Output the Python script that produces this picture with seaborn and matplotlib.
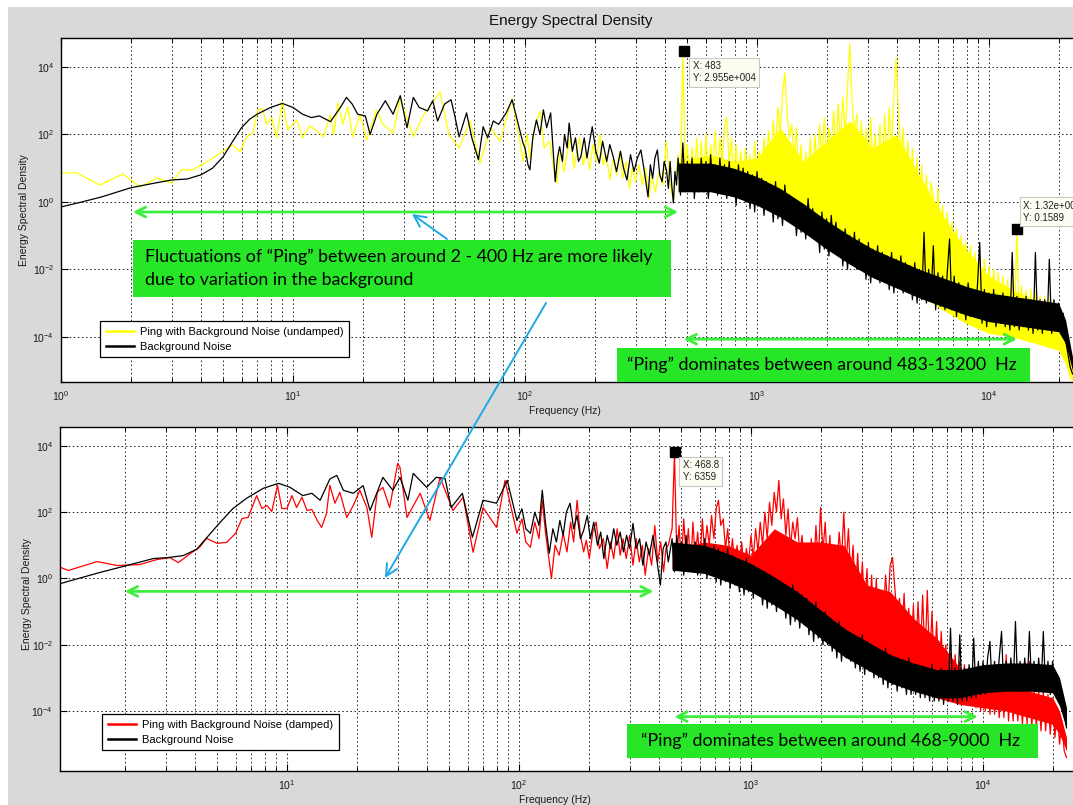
import numpy as np
import matplotlib
matplotlib.use("Agg")
import matplotlib.pyplot as plt
import seaborn as sns
from matplotlib.patches import Rectangle, FancyArrowPatch
from matplotlib.lines import Line2D
from matplotlib.ticker import LogLocator, NullLocator, FixedLocator

# ---------------- data (log10 of Energy Spectral Density) ----------------
# Top panel: background (black), low/mid frequency part
bt_lm_f = [1.0, 1.2, 1.5, 2.0, 2.5, 3.0, 3.5, 4.0, 4.5, 5.0,
           5.5, 6.0, 6.5, 7.0, 8.0, 9.0, 10, 11, 12, 13,
           14.5, 16, 17, 18, 19, 20.5, 21.5, 23, 25, 27,
           29, 31, 33, 35, 38, 40, 42, 45, 48, 50,
           52, 56, 59, 63, 66, 69, 73, 77, 83, 88,
           92, 98, 100, 103, 105, 108, 112, 116, 120, 124,
           129, 132, 135, 138, 141, 145, 148, 152, 155, 160,
           165, 170, 174, 180, 185, 190, 195, 202, 209, 216,
           225, 232, 240, 248, 258, 266, 275, 285, 295, 305,
           316, 327, 339, 347, 355, 363, 372, 381, 390, 398,
           407, 415, 422, 429, 436, 443, 450]
bt_lm_v = [-0.15, -0.02, 0.15, 0.42, 0.55, 0.65, 0.68, 0.80, 1.00, 1.34,
           1.80, 2.20, 2.45, 2.60, 2.80, 2.92, 2.80, 2.60, 2.50, 2.55,
           2.38, 2.80, 3.10, 2.90, 2.60, 2.55, 2.00, 2.60, 3.00, 2.60,
           3.15, 2.20, 3.10, 2.80, 2.70, 3.00, 2.40, 2.90, 3.03, 2.50,
           1.93, 2.64, 1.90, 1.25, 2.23, 1.90, 2.40, 2.30, 2.64, 3.03,
           2.50, 1.75, 1.60, 1.10, 0.95, 1.90, 2.43, 2.00, 2.73, 2.20,
           2.64, 1.60, 0.60, 1.30, 1.64, 1.20, 2.00, 1.60, 2.34, 1.50,
           1.90, 1.20, 1.34, 1.90, 1.30, 1.80, 2.23, 1.50, 1.15, 1.80,
           1.20, 1.70, 1.34, 0.90, 1.50, 1.00, 0.65, 1.40, 0.90, 1.30,
           1.54, 0.90, 0.15, 1.10, 0.70, 1.30, 1.54, 0.80, 0.60, 1.20,
           0.95, 0.40, 1.20, 0.50, -0.03, 0.90, 0.50]

# Top panel: ping (yellow), low/mid frequency part
yt_lm_f = [1.0, 1.17, 1.47, 1.85, 2.19, 2.59, 3.0, 3.3, 3.7, 4.26,
           4.85, 5.5, 5.9, 6.3, 6.7, 7.05, 7.4, 7.7, 8.1, 8.5,
           9.0, 9.5, 10.4, 11.0, 11.8, 12.7, 13.5, 14.5, 15.0, 15.6,
           16.4, 17.2, 18.1, 19.4, 20.8, 22.9, 24.4, 27, 29, 33,
           36, 43, 47, 52, 58, 64, 71, 78, 88, 95,
           98, 102, 105, 110, 116, 121, 128, 132, 137, 142,
           147, 151, 157, 163, 168, 172, 178, 184, 190, 196,
           203, 210, 217, 224, 232, 240, 248, 256, 264, 273,
           282, 290, 300, 310, 320, 331, 342, 352, 365, 378,
           392, 407, 421, 436, 448]
yt_lm_v = [0.86, 0.86, 0.50, 0.83, 0.44, 0.71, 0.56, 0.95, 0.95, 1.19,
           1.45, 1.69, 1.48, 1.93, 2.04, 2.73, 2.76, 2.29, 2.50, 1.90,
           2.97, 2.14, 2.43, 1.90, 2.26, 2.10, 1.93, 2.58, 2.00, 2.94,
           2.30, 2.82, 1.93, 2.60, 1.84, 2.73, 2.30, 2.04, 3.06, 1.93,
           2.50, 3.26, 2.00, 1.60, 2.40, 1.15, 2.20, 1.80, 3.06, 1.80,
           1.20, 2.00, 1.30, 2.20, 2.70, 1.60, 1.80, 1.10, 0.56, 1.50,
           0.90, 1.34, 1.90, 1.00, 1.60, 1.90, 1.10, 1.50, 0.95, 1.70,
           1.20, 2.00, 1.10, 1.40, 0.65, 1.30, 0.80, 1.50, 0.70, 1.20,
           0.40, 1.00, 0.60, 1.10, 0.50, 1.00, 0.10, 0.80, 0.30, 0.90,
           0.50, 1.80, 0.60, 0.00, 0.90]

# Bottom panel: background (black), low/mid frequency part
bb_lm_f = [1.06, 1.56, 2.04, 2.65, 3.07, 3.57, 4.08, 4.52, 5.1, 5.85,
           6.7, 7.9, 9.2, 10.3, 11.7, 12.8, 13.9, 15.3, 16.4, 17.5,
           19.3, 21.3, 22.8, 25.9, 28.6, 30.7, 33.2, 35, 40, 44,
           48, 51, 57, 63, 70, 80, 89, 98, 103, 107,
           112, 117, 122, 126, 130, 135, 140, 145, 150, 155,
           160, 166, 172, 178, 184, 190, 197, 203, 210, 218,
           225, 232, 240, 248, 256, 264, 273, 282, 291, 300,
           310, 320, 331, 342, 353, 365, 378, 392, 407, 418,
           430, 440]
bb_lm_v = [-0.15, 0.18, 0.39, 0.60, 0.63, 0.69, 0.88, 1.24, 1.66, 2.11,
           2.42, 2.72, 2.87, 2.75, 2.50, 2.57, 2.36, 3.00, 3.11, 2.66,
           2.57, 2.80, 2.05, 3.05, 2.66, 3.05, 2.36, 3.17, 2.75, 3.05,
           3.02, 2.14, 2.57, 1.24, 2.36, 2.27, 2.96, 1.75, 2.10, 1.50,
           1.36, 2.00, 1.60, 2.66, 1.70, 0.76, 1.50, 1.10, 1.75, 1.30,
           2.00, 2.27, 1.50, 1.90, 1.20, 1.45, 1.90, 1.20, 1.70, 1.00,
           1.40, 0.60, 1.30, 0.90, 1.50, 1.00, 1.40, 0.80, 1.30, 0.90,
           1.66, 0.90, 1.20, 0.40, 1.10, 0.70, 1.30, 0.60, -0.20, 0.90,
           1.10, 0.50]

# Bottom panel: ping (red), low/mid frequency part
rb_lm_f = [1.06, 1.14, 1.52, 1.85, 2.32, 2.75, 3.13, 3.4, 3.9, 4.2,
           4.5, 5.0, 5.5, 6.0, 6.4, 6.8, 7.4, 7.8, 8.2, 8.6,
           9.1, 9.5, 10.0, 10.5, 11.0, 11.6, 12.2, 12.8, 13.5, 14.1,
           14.8, 15.3, 16.1, 16.9, 18.1, 19.3, 20.6, 22.1, 23.2, 24.5,
           25.9, 27.7, 30, 30.7, 32.9, 37.5, 41.3, 45.7, 51.9, 57.5,
           63.4, 70, 80, 87, 98, 103, 107, 112, 117, 122,
           126, 130, 134, 138, 143, 149, 155, 161, 167, 172,
           178, 184, 190, 195, 201, 208, 215, 222, 231, 240,
           248, 256, 265, 273, 281, 290, 300, 310, 320, 330,
           340, 350, 362, 373, 385, 396, 408, 420, 430, 440]
rb_lm_v = [0.33, 0.24, 0.51, 0.39, 0.42, 0.57, 0.63, 0.48, 0.79, 0.94,
           1.21, 1.06, 1.09, 1.36, 1.81, 1.84, 2.50, 2.11, 2.20, 2.02,
           2.81, 2.11, 2.11, 2.50, 2.14, 2.45, 2.05, 2.08, 1.75, 1.54,
           1.96, 2.81, 2.27, 2.60, 1.84, 2.20, 2.66, 2.14, 1.24, 2.60,
           2.75, 2.14, 3.47, 3.35, 1.84, 2.57, 1.75, 3.05, 2.05, 2.45,
           0.79, 2.14, 1.54, 2.96, 1.36, 1.80, 1.10, 0.94, 1.70, 1.20,
           2.36, 1.40, 0.70, 0.00, 1.00, 0.70, 1.36, 0.80, 1.70, 1.10,
           2.36, 1.30, 0.80, 1.15, 0.60, 1.40, 1.70, 0.90, 1.20, 0.30,
           1.10, 0.60, 1.50, 0.70, 1.20, 0.60, 1.30, 0.40, 1.20, 0.50,
           1.00, 0.10, 0.90, 0.40, 1.60, 0.50, 1.10, 0.20, 0.90, 1.00]

# High-frequency part (shared frequency grid, Hz)
hf_f = [457, 468, 479, 490, 501, 513, 525, 537, 550, 562,
        575, 589, 603, 617, 631, 646, 661, 676, 692, 708,
        724, 741, 759, 776, 794, 813, 832, 851, 871, 891,
        912, 933, 955, 977, 1000, 1023, 1047, 1072, 1096, 1122,
        1148, 1175, 1202, 1230, 1259, 1288, 1318, 1349, 1380, 1413,
        1445, 1479, 1514, 1549, 1585, 1622, 1660, 1698, 1738, 1778,
        1820, 1862, 1905, 1950, 1995, 2042, 2089, 2138, 2188, 2239,
        2291, 2344, 2399, 2455, 2512, 2570, 2630, 2692, 2754, 2818,
        2884, 2951, 3020, 3090, 3162, 3236, 3311, 3388, 3467, 3548,
        3631, 3715, 3802, 3890, 3981, 4074, 4169, 4266, 4365, 4467,
        4571, 4677, 4786, 4898, 5012, 5129, 5248, 5370, 5495, 5623,
        5754, 5888, 6026, 6166, 6310, 6457, 6607, 6761, 6918, 7079,
        7244, 7413, 7586, 7762, 7943, 8128, 8318, 8511, 8710, 8913,
        9120, 9333, 9550, 9772, 10000, 10233, 10471, 10715, 10965, 11220,
        11482, 11749, 12023, 12303, 12589, 12882, 13183, 13490, 13804, 14125,
        14454, 14791, 15136, 15488, 15849, 16218, 16596, 16982, 17378, 17783,
        18197, 18621, 19055, 19498, 19953, 20417, 20893, 21380, 21878, 22387,
        22909]

bt_hf_v = [1.3, 0.2, 1.75, 0.3, 1.2, 0.4, 1.3, 0.1, 1.1, 0.3,
           1.3, 0.3, 1.2, 0.1, 1.4, 0.4, 1.1, 0.2, 1.3, 0.35,
           1.1, 0.1, 1.2, 0.2, 0.9, -0.1, 1.1, 0.2, 1.0, 0.0,
           0.9, -0.2, 0.8, -0.3, 0.9, 0.0, 0.7, -0.4, 0.6, -0.2,
           0.5, -0.6, 0.6, -0.5, 0.3, -0.7, 0.5, -0.4, 0.2, -0.6,
           0.1, -1.0, 0.0, -0.9, -0.1, -1.1, 0.1, -0.8, -0.2, -1.0,
           -0.4, -1.5, -0.3, -1.4, -0.5, -1.6, -0.4, -1.3, -0.6, -1.5,
           -0.9, -1.9, -0.8, -2.0, -1.0, -1.8, -0.9, -2.0, -1.1, -1.9,
           -1.3, -2.3, -1.2, -2.4, -1.4, -2.2, -1.3, -2.4, -1.5, -2.3,
           -1.6, -2.6, -1.5, -2.7, -1.7, -2.5, -1.6, -2.7, -1.8, -2.6,
           -1.9, -2.9, -1.8, -3.0, -2.0, -2.9, -0.9, -3.0, -2.0, -2.9,
           -1.3, -3.2, -2.1, -3.1, -2.2, -3.2, -2.1, -1.1, -3.2, -2.2,
           -3.4, -2.4, -3.3, -2.5, -3.5, -2.4, -3.4, -2.6, -3.4, -2.5,
           -1.2, -3.6, -2.6, -3.7, -2.7, -3.5, -2.6, -3.7, -2.8, -3.6,
           -2.7, -3.7, -2.8, -3.8, -1.5, -3.7, -2.8, -3.8, -2.9, -3.7,
           -2.8, -3.8, -2.9, -3.9, -1.5, -3.8, -2.9, -3.9, -2.9, -3.8,
           -1.7, -3.9, -2.9, -3.8, -3.0, -3.9, -3.3, -4.1, -4.5, -4.9,
           -5.1]
yt_hf_v = [1.4, 0.6, 4.47, 0.9, 1.7, 0.5, 1.6, 0.7, 1.9, 0.6,
           1.8, 0.8, 2.0, 0.6, 1.7, 1.0, 2.1, 0.7, 1.9, 1.2,
           2.2, 2.5, 1.1, 1.9, 0.6, 1.7, 0.8, 1.5, 0.5, 1.6,
           0.7, 1.4, 0.4, 1.8, 0.8, 1.5, 0.6, 1.9, 1.0, 2.1,
           1.2, 2.4, 1.5, 2.8, 2.0, 3.2, 3.83, 2.6, 1.9, 2.3,
           1.2, 2.2, 0.8, 1.7, 0.3, 1.5, 0.5, 1.9, 0.6, 2.0,
           0.9, 2.3, 1.2, 2.5, 1.3, 2.2, 1.6, 2.7, 1.5, 2.9,
           1.7, 3.1, 2.0, 3.4, 4.7, 3.0, 2.0, 2.6, 1.3, 2.4,
           1.0, 2.2, 0.7, 2.5, 1.1, 2.0, 0.6, 2.3, 0.9, 2.6,
           1.2, 2.8, 1.5, 3.2, 4.27, 2.6, 1.3, 2.2, 0.6, 1.8,
           0.2, 1.6, -0.1, 1.3, -0.4, 1.1, -0.6, 0.8, -0.7, 0.6,
           0.15, -1.0, 0.4, -1.2, -0.1, -1.3, -0.3, -1.5, -0.6, -1.7,
           -0.8, -1.9, -1.0, -2.1, -1.2, -2.3, -1.3, -2.5, -1.5, -2.6,
           -1.6, -2.8, -1.7, -2.9, -1.9, -3.0, -2.0, -3.1, -2.1, -3.3,
           -2.2, -3.4, -2.3, -3.5, -2.2, -3.5, -0.8, -3.6, -2.5, -3.7,
           -2.6, -3.8, -2.6, -3.9, -2.7, -4.0, -2.8, -4.0, -2.8, -4.1,
           -2.9, -4.1, -3.0, -4.2, -3.1, -4.4, -3.4, -4.6, -4.9, -5.2,
           -5.3]
rb_hf_v = [1.5, 3.8, 0.6, 1.6, 0.4, 1.8, 0.7, 1.5, 0.3, 1.7,
           0.6, 1.4, 0.5, 1.8, 0.8, 1.6, 1.0, 1.9, 1.2, 2.1,
           2.36, 1.6, 1.8, 0.9, 1.5, 0.5, 1.2, 0.4, 1.0, 0.3,
           1.1, 0.2, 0.9, 0.5, 1.3, 0.6, 1.5, 0.8, 1.7, 1.0,
           2.0, 1.2, 2.3, 1.6, 2.6, 2.0, 2.96, 1.8, 2.4, 1.3,
           2.1, 0.9, 1.7, 1.2, 1.84, 0.7, 1.3, 0.2, 1.0, -0.1,
           1.2, 0.2, 1.6, 0.5, 2.14, 0.8, 1.7, 0.3, 1.3, -0.2,
           1.0, 0.2, 1.4, 0.5, 2.0, 0.4, 1.5, 0.0, 1.0, -0.5,
           0.76, -0.8, 0.5, -1.0, 0.3, -1.2, 0.1, -1.5, 0.0, -1.6,
           -0.4, -1.3, 0.1, -0.9, 0.4, 0.63, -0.3, -1.2, -0.6, -1.8,
           -0.45, -2.0, -0.9, -2.2, -0.8, -2.4, -0.7, -2.3, -0.5, -2.5,
           -0.36, -2.6, -1.0, -2.8, -1.3, -3.0, -1.6, -3.1, -2.0, -3.3,
           -2.27, -3.4, -2.3, -3.5, -2.5, -3.6, -2.6, -3.7, -2.7, -3.8,
           -2.8, -3.9, -2.9, -4.0, -3.0, -4.0, -3.0, -4.1, -3.1, -4.1,
           -3.1, -4.2, -3.2, -4.2, -2.3, -4.3, -3.2, -4.3, -3.3, -4.3,
           -3.3, -4.4, -3.3, -4.4, -2.5, -4.5, -3.4, -4.5, -3.4, -4.6,
           -3.4, -4.6, -3.5, -4.7, -3.6, -4.8, -3.9, -5.0, -4.3, -5.2,
           -5.4]
bb_hf_v = [1.2, 0.2, 1.3, 0.3, 1.1, 0.1, 1.3, 0.4, 1.0, 0.2,
           1.1, 0.1, 1.0, 0.2, 1.2, 0.0, 0.9, 0.2, 1.0, -0.1,
           0.9, -0.2, 0.8, -0.1, 0.9, -0.3, 0.7, -0.2, 0.6, -0.4,
           0.5, -0.5, 0.6, -0.4, 0.4, -0.6, 0.3, -0.5, 0.2, -0.8,
           0.2, -0.9, 0.1, -0.8, 0.0, -1.0, -0.1, -0.9, -0.2, -1.2,
           -0.3, -1.4, -0.2, -1.3, -0.4, -1.5, -0.5, -1.4, -0.6, -1.7,
           -0.8, -1.9, -0.7, -1.8, -1.0, -2.0, -1.0, -2.0, -1.2, -2.2,
           -1.4, -2.4, -1.3, -2.5, -1.5, -2.4, -1.6, -2.5, -1.7, -2.7,
           -1.8, -2.8, -1.7, -2.9, -1.9, -2.8, -2.0, -3.0, -2.1, -3.0,
           -2.2, -3.2, -2.1, -3.3, -2.3, -3.2, -2.4, -3.4, -2.5, -3.3,
           -2.5, -3.5, -2.4, -3.5, -2.6, -3.5, -2.6, -3.6, -2.7, -3.6,
           -2.7, -3.7, -2.6, -3.7, -2.8, -3.7, -2.7, -3.8, -2.8, -3.7,
           -1.5, -3.7, -2.7, -3.8, -1.7, -3.7, -2.7, -3.7, -2.6, -3.6,
           -1.8, -3.6, -2.5, -3.5, -2.5, -3.5, -2.4, -1.9, -3.4, -2.5,
           -3.4, -2.4, -1.6, -3.4, -2.5, -3.4, -2.4, -3.3, -1.3, -3.4,
           -2.5, -3.4, -2.4, -3.4, -1.6, -3.3, -2.5, -3.4, -2.4, -3.4,
           -1.6, -3.4, -2.5, -3.5, -2.5, -3.5, -3.0, -3.7, -3.5, -4.0,
           -4.5]

# Core of the dense noise bands (log10 bounds)
band_f = [457, 631, 794, 1000, 1259, 1585, 1995, 2512, 3162, 3981,
          5012, 6310, 7943, 10000, 12589, 15849, 19953, 21380, 22909]
bt_band_lo = [0.3, 0.3, 0.15, -0.1, -0.45, -0.9, -1.4, -1.85, -2.25, -2.55,
              -2.85, -3.1, -3.35, -3.55, -3.65, -3.75, -3.85, -4.2, -5.0]
bt_band_hi = [1.15, 1.15, 1.0, 0.75, 0.4, -0.05, -0.55, -1.0, -1.4, -1.7,
              -2.0, -2.25, -2.5, -2.7, -2.8, -2.9, -3.0, -3.5, -4.6]
yt_band_lo = [0.4, 0.4, 0.25, 0.0, -0.35, -0.8, -1.3, -1.75, -2.15, -2.45,
              -2.75, -3.2, -3.6, -3.9, -4.0, -4.2, -4.4, -4.8, -5.3]
yt_band_hi = [1.2, 1.4, 1.2, 1.3, 2.2, 1.2, 1.8, 2.4, 1.6, 2.0,
              0.8, -0.4, -1.4, -2.2, -2.6, -2.9, -3.2, -3.8, -5.0]
rb_band_lo = [0.3, 0.2, 0.0, -0.3, -0.7, -1.1, -1.6, -2.2, -2.6, -3.0,
              -3.3, -3.6, -3.8, -3.9, -4.0, -4.2, -4.4, -4.7, -5.2]
rb_band_hi = [0.9, 1.1, 1.0, 0.7, 1.5, 1.1, 1.1, 1.0, -0.2, -0.4,
              -1.2, -1.8, -2.7, -3.1, -3.3, -3.4, -3.6, -4.0, -4.8]
bb_band_lo = [0.25, 0.15, -0.1, -0.4, -0.8, -1.25, -1.8, -2.35, -2.75, -3.15,
              -3.4, -3.6, -3.6, -3.45, -3.4, -3.4, -3.45, -3.85, -4.55]
bb_band_hi = [1.1, 1.0, 0.75, 0.45, 0.05, -0.4, -0.95, -1.5, -1.9, -2.3,
              -2.55, -2.75, -2.75, -2.6, -2.55, -2.55, -2.6, -3.0, -3.9]

# Data tips
tips_top_f = [483, 13200]
tips_top_E = [2.955e4, 0.1589]
tips_top_txt = ["X: 483\nY: 2.955e+004", "X: 1.32e+004\nY: 0.1589"]
tips_bot_f = [468.8]
tips_bot_E = [6359]
tips_bot_txt = ["X: 468.8\nY: 6359"]

# Frequency ranges marked with green arrows
range_top = [(2.04, 457), (483, 13200)]
range_bot = [(2.0, 380), (468, 9500)]

labels_top = ["Ping with Background Noise (undamped)", "Background Noise"]
labels_bot = ["Ping with Background Noise (damped)", "Background Noise"]

for a, b in [(bt_lm_f, bt_lm_v), (yt_lm_f, yt_lm_v), (bb_lm_f, bb_lm_v), (rb_lm_f, rb_lm_v),
             (hf_f, bt_hf_v), (hf_f, yt_hf_v), (hf_f, rb_hf_v), (hf_f, bb_hf_v),
             (band_f, bt_band_lo), (band_f, bt_band_hi), (band_f, yt_band_lo), (band_f, yt_band_hi),
             (band_f, rb_band_lo), (band_f, rb_band_hi), (band_f, bb_band_lo), (band_f, bb_band_hi)]:
    assert len(a) == len(b), (len(a), len(b))

# ---------------- figure ----------------
plt.rcParams['font.family'] = ['Liberation Sans', 'DejaVu Sans']
plt.rcParams['mathtext.default'] = 'regular'
plt.rcParams['axes.unicode_minus'] = False

W, H = 1073, 805
fig = plt.figure(figsize=(W / 100, H / 100), dpi=100, facecolor='white')


def fx(px):
    return px / W


def fy(py):
    return 1 - py / H


GRAY = '#d9d9d9'
GREEN_BOX = '#27e627'
GREEN_LINE = '#3cef3c'
BLUE = '#1ea8e4'
YELLOW = '#ffff00'
RED = '#ff0000'

fig.add_artist(Rectangle((fx(8), 0), 1, fy(7), transform=fig.transFigure,
                         facecolor=GRAY, edgecolor='none', zorder=-10))

DEC = 232.0
XMAX = 10 ** 4.5
ax1 = fig.add_axes([fx(61), fy(382), np.log10(XMAX) * DEC / W, 344 / H])
XMIN2 = 1.051
ax2 = fig.add_axes([fx(60), fy(771), (np.log10(XMAX) - np.log10(XMIN2)) * DEC / W, 344 / H])

GRID_LS = (0, (1.6, 2.6))


def style_axes(ax, xmin, ylim):
    ax.set_xscale('log')
    ax.set_yscale('log')
    ax.set_xlim(xmin, XMAX)
    ax.set_ylim(*ylim)
    ax.set_facecolor('white')
    ax.xaxis.set_major_locator(LogLocator(base=10, numticks=20))
    ax.xaxis.set_minor_locator(LogLocator(base=10, subs=np.arange(2, 10), numticks=40))
    ax.yaxis.set_major_locator(FixedLocator([1e-4, 1e-2, 1e0, 1e2, 1e4]))
    ax.yaxis.set_minor_locator(NullLocator())
    ax.tick_params(which='both', direction='in', top=True, right=True,
                   labelsize=7.5, labelcolor='#1a1a1a', color='black')
    ax.tick_params(which='major', length=5, width=0.8, pad=5)
    ax.tick_params(which='minor', length=3, width=0.7)
    ax.grid(which='major', axis='both', linestyle=GRID_LS, color='#222222', lw=0.7)
    ax.grid(which='minor', axis='x', linestyle=GRID_LS, color='#222222', lw=0.7)
    ax.set_axisbelow(True)
    for s in ax.spines.values():
        s.set_color('black')
        s.set_linewidth(1.0)


style_axes(ax1, 1.0, (10 ** -5.34, 10 ** 4.86))
style_axes(ax2, XMIN2, (10 ** -5.81, 10 ** 4.57))


def draw_series(ax, lm_f, lm_v, hf_v, band_lo, band_hi, color, z):
    ax.fill_between(band_f, 10.0 ** np.array(band_lo), 10.0 ** np.array(band_hi),
                    color=color, lw=0, zorder=z)
    f = np.concatenate([lm_f, hf_f])
    v = 10.0 ** np.concatenate([lm_v, hf_v])
    sns.lineplot(x=f, y=v, ax=ax, color=color, lw=0.9, sort=False,
                 estimator=None, legend=False, zorder=z + 0.1)


draw_series(ax1, yt_lm_f, yt_lm_v, yt_hf_v, yt_band_lo, yt_band_hi, YELLOW, 2.0)
draw_series(ax1, bt_lm_f, bt_lm_v, bt_hf_v, bt_band_lo, bt_band_hi, 'black', 2.5)
draw_series(ax2, rb_lm_f, rb_lm_v, rb_hf_v, rb_band_lo, rb_band_hi, RED, 2.0)
draw_series(ax2, bb_lm_f, bb_lm_v, bb_hf_v, bb_band_lo, bb_band_hi, 'black', 2.5)

# legends
for ax, col, labels, (lx, ly) in [(ax1, YELLOW, labels_top, (100, 321)),
                                   (ax2, RED, labels_bot, (102, 714))]:
    handles = [Line2D([], [], color=col, lw=1.8), Line2D([], [], color='black', lw=1.8)]
    leg = ax.legend(handles, labels, loc='upper left', bbox_to_anchor=(fx(lx), fy(ly)),
                    bbox_transform=fig.transFigure, frameon=True, fancybox=False,
                    edgecolor='black', framealpha=1, borderaxespad=0, fontsize=8,
                    handlelength=2.6, handletextpad=0.5, borderpad=0.5, labelspacing=0.45)
    leg.get_frame().set_linewidth(0.9)
    leg.set_zorder(8)

# data tips
for ax, fs, es, txts, offs in [(ax1, tips_top_f, tips_top_E, tips_top_txt, [(9, -10), (6, 28)]),
                               (ax2, tips_bot_f, tips_bot_E, tips_bot_txt, [(8, -8)])]:
    ax.plot(fs, es, linestyle='none', marker='s', markersize=6.5, color='black', zorder=9)
    for f, e, t, o in zip(fs, es, txts, offs):
        ax.annotate(t, xy=(f, e), xytext=o, textcoords='offset pixels', ha='left', va='top',
                    fontsize=7, color='#222222', linespacing=1.25, zorder=9,
                    annotation_clip=False,
                    bbox=dict(boxstyle='square,pad=0.35', fc='#fdfdf2', ec='#c8c8c8', lw=0.8))

# green range arrows
for ax, ranges, ys in [(ax1, range_top, [10 ** -0.30, 10 ** -4.07]),
                       (ax2, range_bot, [10 ** -0.39, 10 ** -4.17])]:
    for (a, b), yv in zip(ranges, ys):
        ax.annotate('', xy=(a, yv), xytext=(b, yv),
                    arrowprops=dict(arrowstyle='<->,head_length=0.7,head_width=0.35',
                                    color=GREEN_LINE, lw=2.0, shrinkA=0, shrinkB=0),
                    zorder=7)

# green text boxes (figure pixel positions)
boxes = [
    ((133, 240, 671, 297), None),
    ((617, 348, 1030, 382), "\u201cPing\u201d dominates between around 483-13200  Hz"),
    ((627, 724, 1038, 758), "\u201cPing\u201d dominates between around 468-9000  Hz"),
]
TXT_FONT = ['Lato', 'DejaVu Sans']
for (x0, y0, x1, y1), txt in boxes:
    fig.add_artist(Rectangle((fx(x0), fy(y1)), (x1 - x0) / W, (y1 - y0) / H,
                             transform=fig.transFigure, facecolor=GREEN_BOX,
                             edgecolor='none', zorder=5))
    if txt:
        fig.text(fx((x0 + x1) / 2 - 2), fy((y0 + y1) / 2), txt, ha='center', va='center',
                 fontsize=12.8, family=TXT_FONT, color='black', zorder=6)
fig.text(fx(145), fy(257), "Fluctuations of \u201cPing\u201d between around 2 - 400 Hz are more likely",
         ha='left', va='center', fontsize=12.8, family=TXT_FONT, color='black', zorder=6)
fig.text(fx(145), fy(280), "due to variation in the background",
         ha='left', va='center', fontsize=12.8, family=TXT_FONT, color='black', zorder=6)

# blue pointer arrows
for (xa, ya), (xb, yb) in [((546, 303), (385, 578)), ((447, 239), (412, 214))]:
    fig.add_artist(FancyArrowPatch((fx(xa), fy(ya)), (fx(xb), fy(yb)), transform=fig.transFigure,
                                   arrowstyle='->,head_length=0.6,head_width=0.3', mutation_scale=14,
                                   color=BLUE, lw=1.4, shrinkA=0, shrinkB=0, zorder=7))

# titles / labels
fig.text(fx(571), fy(21), "Energy Spectral Density", ha='center', va='center', fontsize=11, color='#111111')
fig.text(fx(565), fy(411), "Frequency (Hz)", ha='center', va='center', fontsize=7.5, color='#1a1a1a')
fig.text(fx(555), fy(800), "Frequency (Hz)", ha='center', va='center', fontsize=7.5, color='#1a1a1a')
fig.text(fx(24), fy(210), "Energy Spectral Density", ha='center', va='center', rotation=90,
         fontsize=7.5, color='#1a1a1a')
fig.text(fx(27), fy(594), "Energy Spectral Density", ha='center', va='center', rotation=90,
         fontsize=7.5, color='#1a1a1a')

fig.savefig("out.png", dpi=100, facecolor=fig.get_facecolor())
